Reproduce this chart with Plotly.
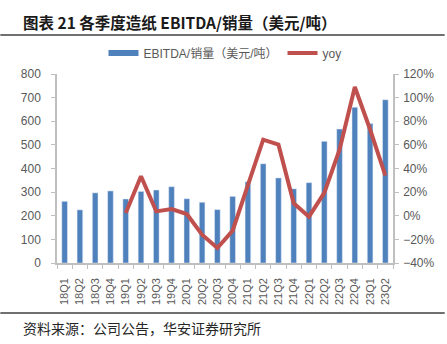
import plotly.graph_objects as go

categories = ["18Q1","18Q2","18Q3","18Q4","19Q1","19Q2","19Q3","19Q4",
              "20Q1","20Q2","20Q3","20Q4","21Q1","21Q2","21Q3","21Q4",
              "22Q1","22Q2","22Q3","22Q4","23Q1","23Q2"]
ebitda_per_ton = [261, 225, 297, 305, 271, 303, 309, 323,
                  272, 257, 226, 282, 344, 420, 360, 314,
                  340, 515, 567, 659, 590, 691]
yoy = [None, None, None, None, 0.024, 0.334, 0.037, 0.057,
       0.015, -0.16, -0.273, -0.126, 0.26, 0.644, 0.602, 0.105,
       -0.008, 0.193, 0.56, 1.09, 0.73, 0.34]

bar_name = "EBITDA/销量（美元/吨）"
line_name = "yoy"

BLUE = "#4F81BD"
RED = "#C0504D"
GRAY_TXT = "#595959"
AXIS = "#BFBFBF"

W, H = 447, 344
L, R, T, B = 57, 52, 74, 81
plot_h = H - T - B
plot_w = W - L - R

def py(pix):
    return (H - B - pix) / plot_h

def px(pix):
    return (pix - L) / plot_w

fig = go.Figure()
fig.add_trace(go.Bar(x=categories, y=ebitda_per_ton, marker_color=BLUE,
                     name=bar_name, showlegend=False, yaxis="y"))
# legend proxy for the bar series (wide rectangle like the original)
fig.add_trace(go.Scatter(x=[None], y=[None], mode="lines", name=bar_name,
                         line=dict(color=BLUE, width=6), yaxis="y"))
fig.add_trace(go.Scatter(x=categories, y=yoy, mode="lines", name=line_name,
                         line=dict(color=RED, width=4), yaxis="y2",
                         connectgaps=False))

font_main = "Liberation Sans, Arial, Noto Sans CJK SC"

fig.update_layout(
    width=W, height=H,
    margin=dict(l=L, r=R, t=T, b=B, pad=0),
    paper_bgcolor="white", plot_bgcolor="white",
    bargap=0.63,
    font=dict(family=font_main, size=12, color=GRAY_TXT),
    showlegend=True,
    legend=dict(orientation="h", x=px(226), xanchor="center", y=py(53), yanchor="middle",
                font=dict(size=12, color=GRAY_TXT, family=font_main),
                bgcolor="rgba(0,0,0,0)", itemwidth=30, tracegroupgap=0),
    xaxis=dict(type="category", showline=True, linecolor=AXIS, linewidth=1.5,
               ticks="outside", tickson="boundaries", ticklen=4, tickcolor=AXIS,
               tickangle=-90, tickfont=dict(size=11, color=GRAY_TXT),
               showgrid=False, zeroline=False, ticklabelstandoff=9),
    yaxis=dict(range=[0, 800], dtick=100, showline=True, linecolor=AXIS, linewidth=1.5,
               ticks="outside", ticklen=4, tickcolor=AXIS, showgrid=False, zeroline=False,
               tickfont=dict(size=12, color=GRAY_TXT), ticklabelstandoff=8),
    yaxis2=dict(range=[-0.4, 1.2], dtick=0.2, tickformat=".0%", overlaying="y", side="right",
                showline=True, linecolor=AXIS, linewidth=1.5, ticks="outside", ticklen=4,
                tickcolor=AXIS, showgrid=False, zeroline=False,
                tickfont=dict(size=12, color=GRAY_TXT), ticklabelstandoff=2),
)

cjk = "Noto Sans CJK SC"
fig.add_annotation(text="<b>图表 21 各季度造纸 EBITDA/销量（美元/吨）</b>", xref="paper", yref="paper",
                   x=px(21), y=py(22), xanchor="left", yanchor="middle", showarrow=False,
                   font=dict(family=cjk, size=15.5, color="#1a1a1a"))
fig.add_annotation(text="资料来源：公司公告，华安证券研究所", xref="paper", yref="paper",
                   x=px(21), y=py(328), xanchor="left", yanchor="middle", showarrow=False,
                   font=dict(family=cjk, size=14, color="#262626"))
fig.add_shape(type="line", xref="paper", yref="paper", x0=px(0), x1=px(W), y0=py(35), y1=py(35),
              line=dict(color="#404040", width=1.5))
fig.add_shape(type="line", xref="paper", yref="paper", x0=px(0), x1=px(W), y0=py(313), y1=py(313),
              line=dict(color="#404040", width=1.5))

fig.write_html("out.html")
